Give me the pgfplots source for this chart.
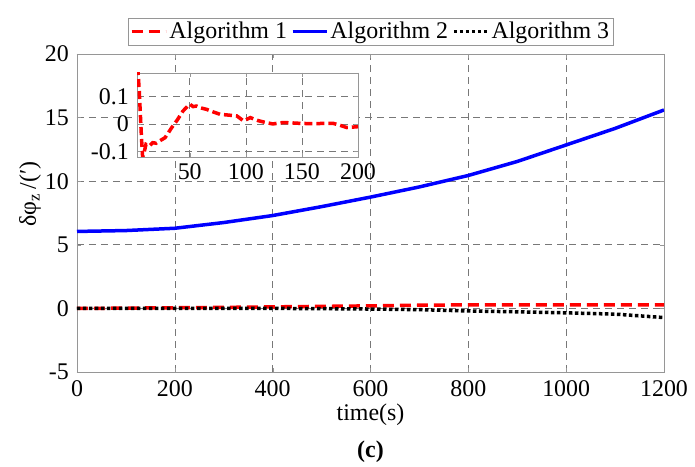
\documentclass[border=0pt]{standalone}
\usepackage{pgfplots}
\pgfplotsset{compat=1.18}
\usepackage{fontspec}
\setmainfont{Liberation Serif}

\definecolor{gridgray}{RGB}{120,120,120}
\definecolor{framegray}{RGB}{150,150,150}

\begin{document}
\fontsize{24}{28}\selectfont
\begin{tikzpicture}[x=1bp,y=1bp]
  \pgfplotsset{
    every axis/.append style={
      font=\fontsize{24}{28}\selectfont,
      /pgf/number format/assume math mode=true,
      /pgf/number format/1000 sep={},
      axis line style={framegray},
      major grid style={gridgray, dash pattern=on 7bp off 5bp, line width=0.6bp},
      tick style={framegray},
      major tick length=4bp,
      tick align=inside,
    },
  }
  % main axis
  \begin{axis}[
      name=main,
      scale only axis,
      width=587bp, height=318bp,
      xmin=0, xmax=1200, ymin=-5, ymax=20,
      xtick={0,200,...,1200}, ytick={-5,0,...,20},
      grid=major,
      xlabel={time(s)},
      ylabel={δφ\textsubscript{z}\,/(′)},
      xlabel style={at={(axis description cs:0.5,-0.135)}, anchor=center},
      ylabel style={at={(axis description cs:-0.08,0.56)}, anchor=center},
      legend columns=3,
      legend style={at={(0.5,1)}, anchor=south, yshift=9bp, draw=framegray,
        inner ysep=1bp, inner xsep=2bp,
        /tikz/every even column/.append style={column sep=2bp}},
      legend image code/.code={\draw[#1] (0bp,0bp) -- (34bp,0bp);},
    ]
    \addplot[red, line width=3.5bp, dash pattern=on 11bp off 6bp] coordinates {
      (0,0) (100,0.02) (200,0.05) (300,0.08) (400,0.12) (500,0.16)
      (600,0.2) (700,0.25) (800,0.28) (900,0.28) (1000,0.28) (1100,0.28) (1200,0.28)
    };
    \addlegendentry{Algorithm 1}
    \addplot[blue, line width=3.5bp] coordinates {
      (0,6.05) (100,6.12) (200,6.3) (300,6.75) (400,7.3) (500,8.0) (600,8.75)
      (700,9.55) (800,10.45) (900,11.55) (1000,12.85) (1100,14.15) (1200,15.6)
    };
    \addlegendentry{Algorithm 2}
    \addplot[black, line width=3.5bp, dash pattern=on 3.5bp off 2.5bp] coordinates {
      (0,0) (100,0) (200,0) (300,0) (400,0) (500,-0.02) (600,-0.05) (700,-0.1)
      (800,-0.2) (900,-0.27) (1000,-0.35) (1100,-0.45) (1200,-0.72)
    };
    \addlegendentry{Algorithm 3}
  \end{axis}

  % inset
  \begin{axis}[
      at={(60bp,215bp)}, anchor=south west,
      scale only axis,
      width=221bp, height=84bp,
      xmin=3, xmax=200, ymin=-0.12, ymax=0.185,
      xtick={50,100,150,200}, ytick={-0.1,0,0.1},
      yticklabels={-0.1,0,0.1},
      grid=major,
      axis background/.style={fill=white},
      xticklabel style={yshift=2bp},
      clip=true,
    ]
    \addplot[red, line width=3.5bp, dash pattern=on 8bp off 4bp] coordinates {
      (3,0.25) (5,0.12) (7,-0.05) (8,-0.12) (9,-0.11) (11,-0.074) (14,-0.08)
      (17,-0.068) (20,-0.07) (23,-0.062) (28,-0.05) (34,-0.013) (39,0.015)
      (44,0.047) (50,0.072) (53,0.063) (56,0.065) (60,0.058) (65,0.053)
      (70,0.045) (77,0.035) (85,0.032) (92,0.029) (98,0.011) (104,0.023)
      (111,0.012) (118,0.005) (124,0) (133,0.005) (140,0.004) (149,0.002)
      (160,0.001) (170,0.002) (178,0.002) (184,-0.005) (190,-0.013) (200,-0.01)
    };
  \end{axis}

  \node[font=\fontsize{24}{28}\selectfont\bfseries] at (293.5bp,-80bp) {(c)};

  \pgfresetboundingbox
  \path[use as bounding box] (-77bp,-95bp) rectangle (618bp,372bp);
\end{tikzpicture}
\end{document}
